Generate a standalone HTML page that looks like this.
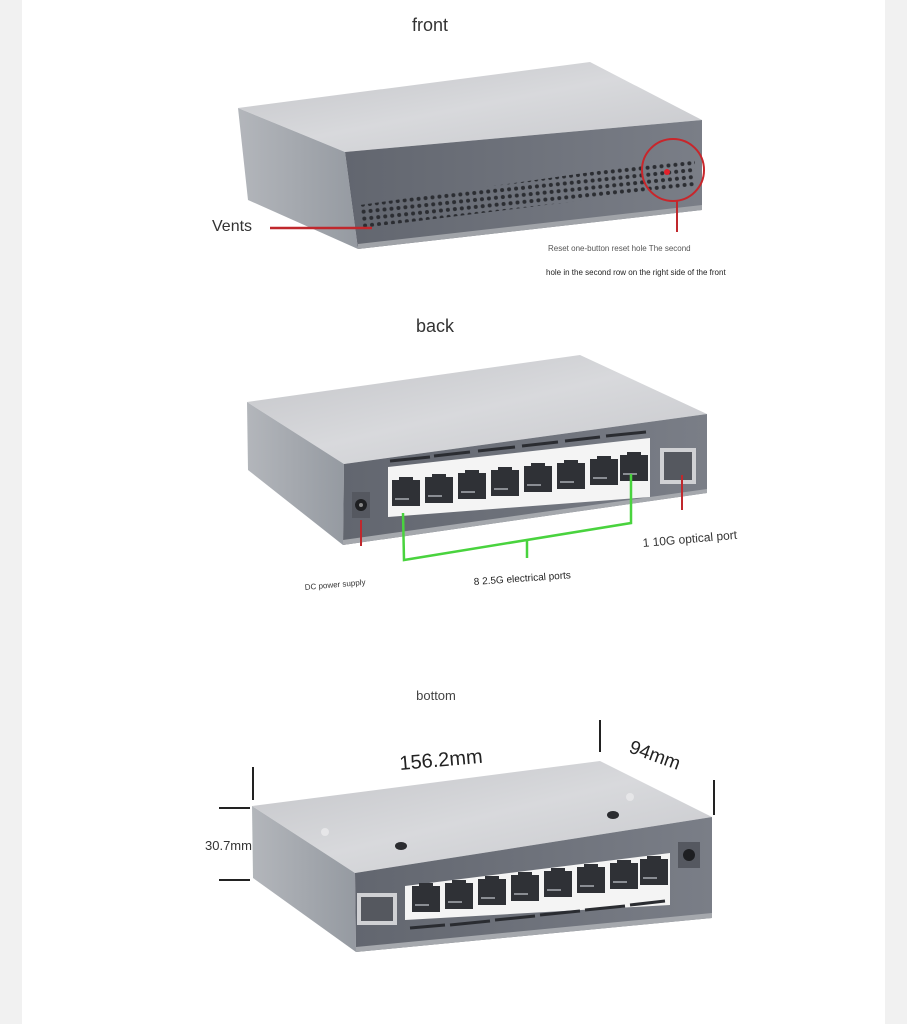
<!DOCTYPE html>
<html><head><meta charset="utf-8"><style>
html,body{margin:0;padding:0;background:#f1f1f1;}
svg{display:block;}
text{font-family:"Liberation Sans",Arial,sans-serif;}
</style></head><body>
<svg width="907" height="1024" viewBox="0 0 907 1024" xmlns="http://www.w3.org/2000/svg">
<defs>
<linearGradient id="top" x1="0" y1="0" x2="1" y2="1"><stop offset="0" stop-color="#c2c3c7"/><stop offset="0.5" stop-color="#d8d9dc"/><stop offset="1" stop-color="#c6c7cb"/></linearGradient>
<linearGradient id="side" x1="0" y1="0" x2="1" y2="0"><stop offset="0" stop-color="#b3b6bb"/><stop offset="1" stop-color="#959aa1"/></linearGradient>
<linearGradient id="front" x1="0" y1="0" x2="1" y2="0"><stop offset="0" stop-color="#62666f"/><stop offset="1" stop-color="#7a7e87"/></linearGradient>
<pattern id="vent" width="7" height="7" patternUnits="userSpaceOnUse" patternTransform="rotate(-6)"><circle cx="3.5" cy="3.5" r="2" fill="#2b2d32"/></pattern>
<g id="port"><rect width="28" height="26" fill="#2f3136"/><rect x="7" y="-3" width="14" height="5" fill="#2f3136"/><rect x="3" y="18" width="14" height="2" fill="#8a8d93"/></g>
</defs>
<rect x="22" y="0" width="863" height="1024" fill="#fff"/>

<!-- FRONT -->
<text x="430" y="31" font-size="18" fill="#333" text-anchor="middle">front</text>
<polygon points="238,108 590,62 702,120 345,152" fill="url(#top)"/>
<polygon points="238,108 345,152 358,249 248,200" fill="url(#side)"/>
<polygon points="345,152 702,120 702,210 358,249" fill="url(#front)"/>
<polygon points="358,244 702,205 702,210 358,249" fill="#a0a3a8"/>
<polygon points="360,205 640,165 695,158 695,186 650,192 362,228" fill="url(#vent)"/>
<line x1="270" y1="228" x2="372" y2="228" stroke="#c0282d" stroke-width="2.5"/>
<text x="212" y="231" font-size="16" fill="#333">Vents</text>
<circle cx="673" cy="170" r="31" fill="none" stroke="#c8262b" stroke-width="2"/>
<circle cx="667" cy="172" r="3" fill="#e3202a"/>
<line x1="677" y1="201" x2="677" y2="232" stroke="#c0282d" stroke-width="2"/>
<text x="548" y="251" font-size="8" fill="#555">Reset one-button reset hole The second</text>
<text x="546" y="275" font-size="8" fill="#222">hole in the second row on the right side of the front</text>

<!-- BACK -->
<text x="435" y="332" font-size="18" fill="#333" text-anchor="middle">back</text>
<polygon points="247,402 580,355 707,414 344,464" fill="url(#top)"/>
<polygon points="247,402 344,464 343,545 248,470" fill="url(#side)"/>
<polygon points="344,464 707,414 707,493 343,545" fill="url(#front)"/>
<polygon points="343,540 707,489 707,493 343,545" fill="#a5a8ad"/>
<polygon points="388,467 650,438 650,497 388,517" fill="#f4f4f4"/>
<g>
<use href="#port" x="392" y="480"/><use href="#port" x="425" y="477"/><use href="#port" x="458" y="473"/><use href="#port" x="491" y="470"/>
<use href="#port" x="524" y="466"/><use href="#port" x="557" y="463"/><use href="#port" x="590" y="459"/><use href="#port" x="620" y="455"/>
</g>
<g stroke="#2a2c31" stroke-width="3">
<line x1="390" y1="461" x2="430" y2="457"/><line x1="434" y1="456" x2="470" y2="452"/><line x1="478" y1="451" x2="515" y2="447"/><line x1="522" y1="446" x2="558" y2="442"/><line x1="565" y1="441" x2="600" y2="437"/><line x1="606" y1="436" x2="646" y2="432"/>
</g>
<rect x="660" y="448" width="36" height="36" fill="#d0d1d4"/><rect x="664" y="452" width="28" height="28" fill="#55585f"/>
<rect x="352" y="492" width="18" height="26" fill="#555860"/><circle cx="361" cy="505" r="6" fill="#1e1f22"/><circle cx="361" cy="505" r="2" fill="#888"/>
<line x1="361" y1="520" x2="361" y2="546" stroke="#c0282d" stroke-width="2"/>
<line x1="682" y1="475" x2="682" y2="510" stroke="#c0282d" stroke-width="2"/>
<polyline points="403,513 404,560 631,523 631,474" fill="none" stroke="#49d33e" stroke-width="2.5"/>
<line x1="527" y1="541" x2="527" y2="558" stroke="#49d33e" stroke-width="2.5"/>
<text x="305" y="590" font-size="8" fill="#333" transform="rotate(-5 305 590)">DC power supply</text>
<text x="474" y="585" font-size="10" fill="#222" transform="rotate(-4 474 585)">8 2.5G electrical ports</text>
<text x="643" y="547" font-size="12" fill="#333" transform="rotate(-5 643 547)">1 10G optical port</text>

<!-- BOTTOM -->
<text x="436" y="700" font-size="13" fill="#444" text-anchor="middle">bottom</text>
<polygon points="252,806 600,761 712,817 355,873" fill="url(#top)"/>
<polygon points="252,806 355,873 356,952 253,878" fill="url(#side)"/>
<polygon points="355,873 712,817 712,918 356,952" fill="url(#front)"/>
<polygon points="356,947 712,913 712,918 356,952" fill="#a5a8ad"/>
<circle cx="325" cy="832" r="4" fill="#e6e6e8"/><circle cx="630" cy="797" r="4" fill="#e6e6e8"/>
<ellipse cx="401" cy="846" rx="6" ry="4" fill="#2b2c30"/><ellipse cx="613" cy="815" rx="6" ry="4" fill="#2b2c30"/>
<polygon points="405,886 670,853 670,905 405,920" fill="#f4f4f4"/>
<g>
<use href="#port" x="412" y="886"/><use href="#port" x="445" y="883"/><use href="#port" x="478" y="879"/><use href="#port" x="511" y="875"/>
<use href="#port" x="544" y="871"/><use href="#port" x="577" y="867"/><use href="#port" x="610" y="863"/><use href="#port" x="640" y="859"/>
</g>
<g stroke="#2a2c31" stroke-width="3">
<line x1="410" y1="928" x2="445" y2="925"/><line x1="450" y1="925" x2="490" y2="921"/><line x1="495" y1="920" x2="535" y2="916"/><line x1="540" y1="915" x2="580" y2="911"/><line x1="585" y1="910" x2="625" y2="906"/><line x1="630" y1="905" x2="665" y2="901"/>
</g>
<rect x="357" y="893" width="40" height="32" fill="#d0d1d4"/><rect x="361" y="897" width="32" height="24" fill="#55585f"/>
<rect x="678" y="842" width="22" height="26" fill="#555860"/><circle cx="689" cy="855" r="6" fill="#1e1f22"/>
<g stroke="#222" stroke-width="2">
<line x1="253" y1="767" x2="253" y2="800"/>
<line x1="219" y1="808" x2="250" y2="808"/>
<line x1="219" y1="880" x2="250" y2="880"/>
<line x1="600" y1="720" x2="600" y2="752"/>
<line x1="714" y1="780" x2="714" y2="815"/>
</g>
<text x="400" y="770" font-size="20" fill="#222" transform="rotate(-5 400 770)">156.2mm</text>
<text x="628" y="752" font-size="19" fill="#222" transform="rotate(20 628 752)">94mm</text>
<text x="205" y="850" font-size="13" fill="#333">30.7mm</text>
</svg>
</body></html>
